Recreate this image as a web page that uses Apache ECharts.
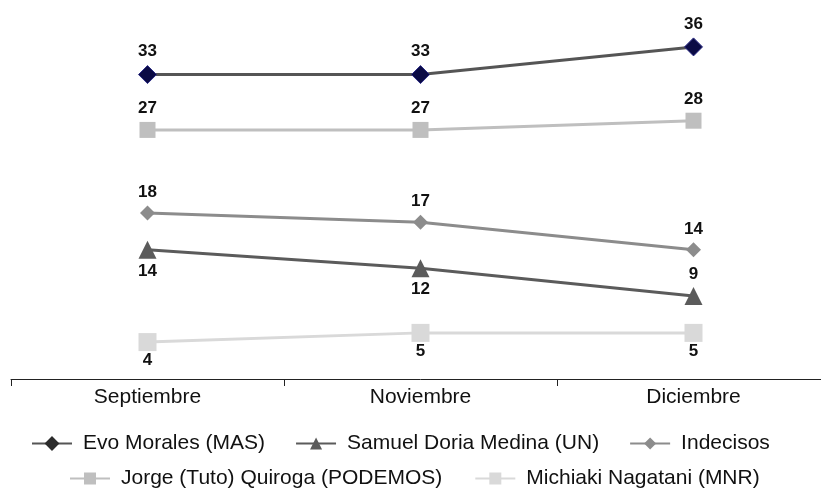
<!DOCTYPE html>
<html>
<head>
<meta charset="utf-8">
<script src="https://cdn.jsdelivr.net/npm/echarts@6/dist/echarts.min.js"></script>
<style>html,body{margin:0;padding:0;background:#fff;overflow:hidden;width:821px;height:493px}#c{width:830px;height:493px}</style>
</head>
<body>
<div id="c"></div>
<script>
const categories = ['Septiembre', 'Noviembre', 'Diciembre'];
const evoMorales = [33, 33, 36];
const samuelDoria = [14, 12, 9];
const indecisos = [18, 17, 14];
const quiroga = [27, 27, 28];
const nagatani = [4, 5, 5];
const samuelLabelPos = ['bottom', 'bottom', 'top'];

const names = ['Evo Morales (MAS)', 'Samuel Doria Medina (UN)', 'Indecisos', 'Jorge (Tuto) Quiroga (PODEMOS)', 'Michiaki Nagatani (MNR)'];
const FONT = '"Liberation Sans", Arial, sans-serif';
const labelStyle = {show: true, fontFamily: FONT, fontWeight: 'bold', fontSize: 17, color: '#111'};

const legendText = {fontFamily: FONT, fontSize: 21, color: '#111', padding: [0, 0, 0, 6]};

const chart = echarts.init(document.getElementById('c'), null, {renderer: 'canvas'});
chart.setOption({
  animation: false,
  backgroundColor: '#fff',
  grid: {left: 11, right: 0, top: 10, bottom: 114},
  xAxis: {
    type: 'category',
    data: categories,
    boundaryGap: true,
    axisLine: {lineStyle: {color: '#222', width: 1}},
    axisTick: {show: true, length: 7, lineStyle: {color: '#222'}},
    axisLabel: {fontFamily: FONT, fontSize: 21, color: '#111', margin: 8}
  },
  yAxis: {type: 'value', min: 0, max: 40, show: false, splitLine: {show: false}},
  legend: [
    {
      top: 428, left: 26, itemGap: 30, itemWidth: 40, itemHeight: 15,
      textStyle: legendText,
      data: [
        {name: names[0], itemStyle: {color: '#2b2b2b', borderColor: '#2b2b2b'}},
        {name: names[1]},
        {name: names[2]}
      ]
    },
    {
      top: 463, left: 64, itemGap: 32, itemWidth: 40, itemHeight: 15,
      textStyle: legendText,
      data: [{name: names[3]}, {name: names[4]}]
    }
  ],
  series: [
    {
      name: names[0], type: 'line', data: evoMorales, symbol: 'diamond', symbolSize: 18,
      lineStyle: {color: '#555555', width: 3},
      itemStyle: {color: '#0b0b45', borderColor: '#2a2a85', borderWidth: 1},
      label: Object.assign({position: 'top', distance: 5}, labelStyle), z: 5
    },
    {
      name: names[1], type: 'line',
      data: samuelDoria.map((v, i) => ({value: v, label: {position: samuelLabelPos[i]}})),
      symbol: 'triangle', symbolSize: 18,
      lineStyle: {color: '#5b5b5b', width: 3},
      itemStyle: {color: '#5b5b5b'},
      label: Object.assign({position: 'bottom', distance: 4}, labelStyle), z: 4
    },
    {
      name: names[2], type: 'line', data: indecisos, symbol: 'diamond', symbolSize: 15,
      lineStyle: {color: '#8c8c8c', width: 3},
      itemStyle: {color: '#8c8c8c'},
      label: Object.assign({position: 'top', distance: 5}, labelStyle), z: 4
    },
    {
      name: names[3], type: 'line', data: quiroga, symbol: 'rect', symbolSize: 16,
      lineStyle: {color: '#bfbfbf', width: 3},
      itemStyle: {color: '#bfbfbf'},
      label: Object.assign({position: 'top', distance: 5}, labelStyle), z: 3
    },
    {
      name: names[4], type: 'line', data: nagatani, symbol: 'rect', symbolSize: 18,
      lineStyle: {color: '#d9d9d9', width: 3},
      itemStyle: {color: '#d9d9d9'},
      label: Object.assign({position: 'bottom', distance: 1}, labelStyle), z: 3
    }
  ]
});
</script>
</body>
</html>
